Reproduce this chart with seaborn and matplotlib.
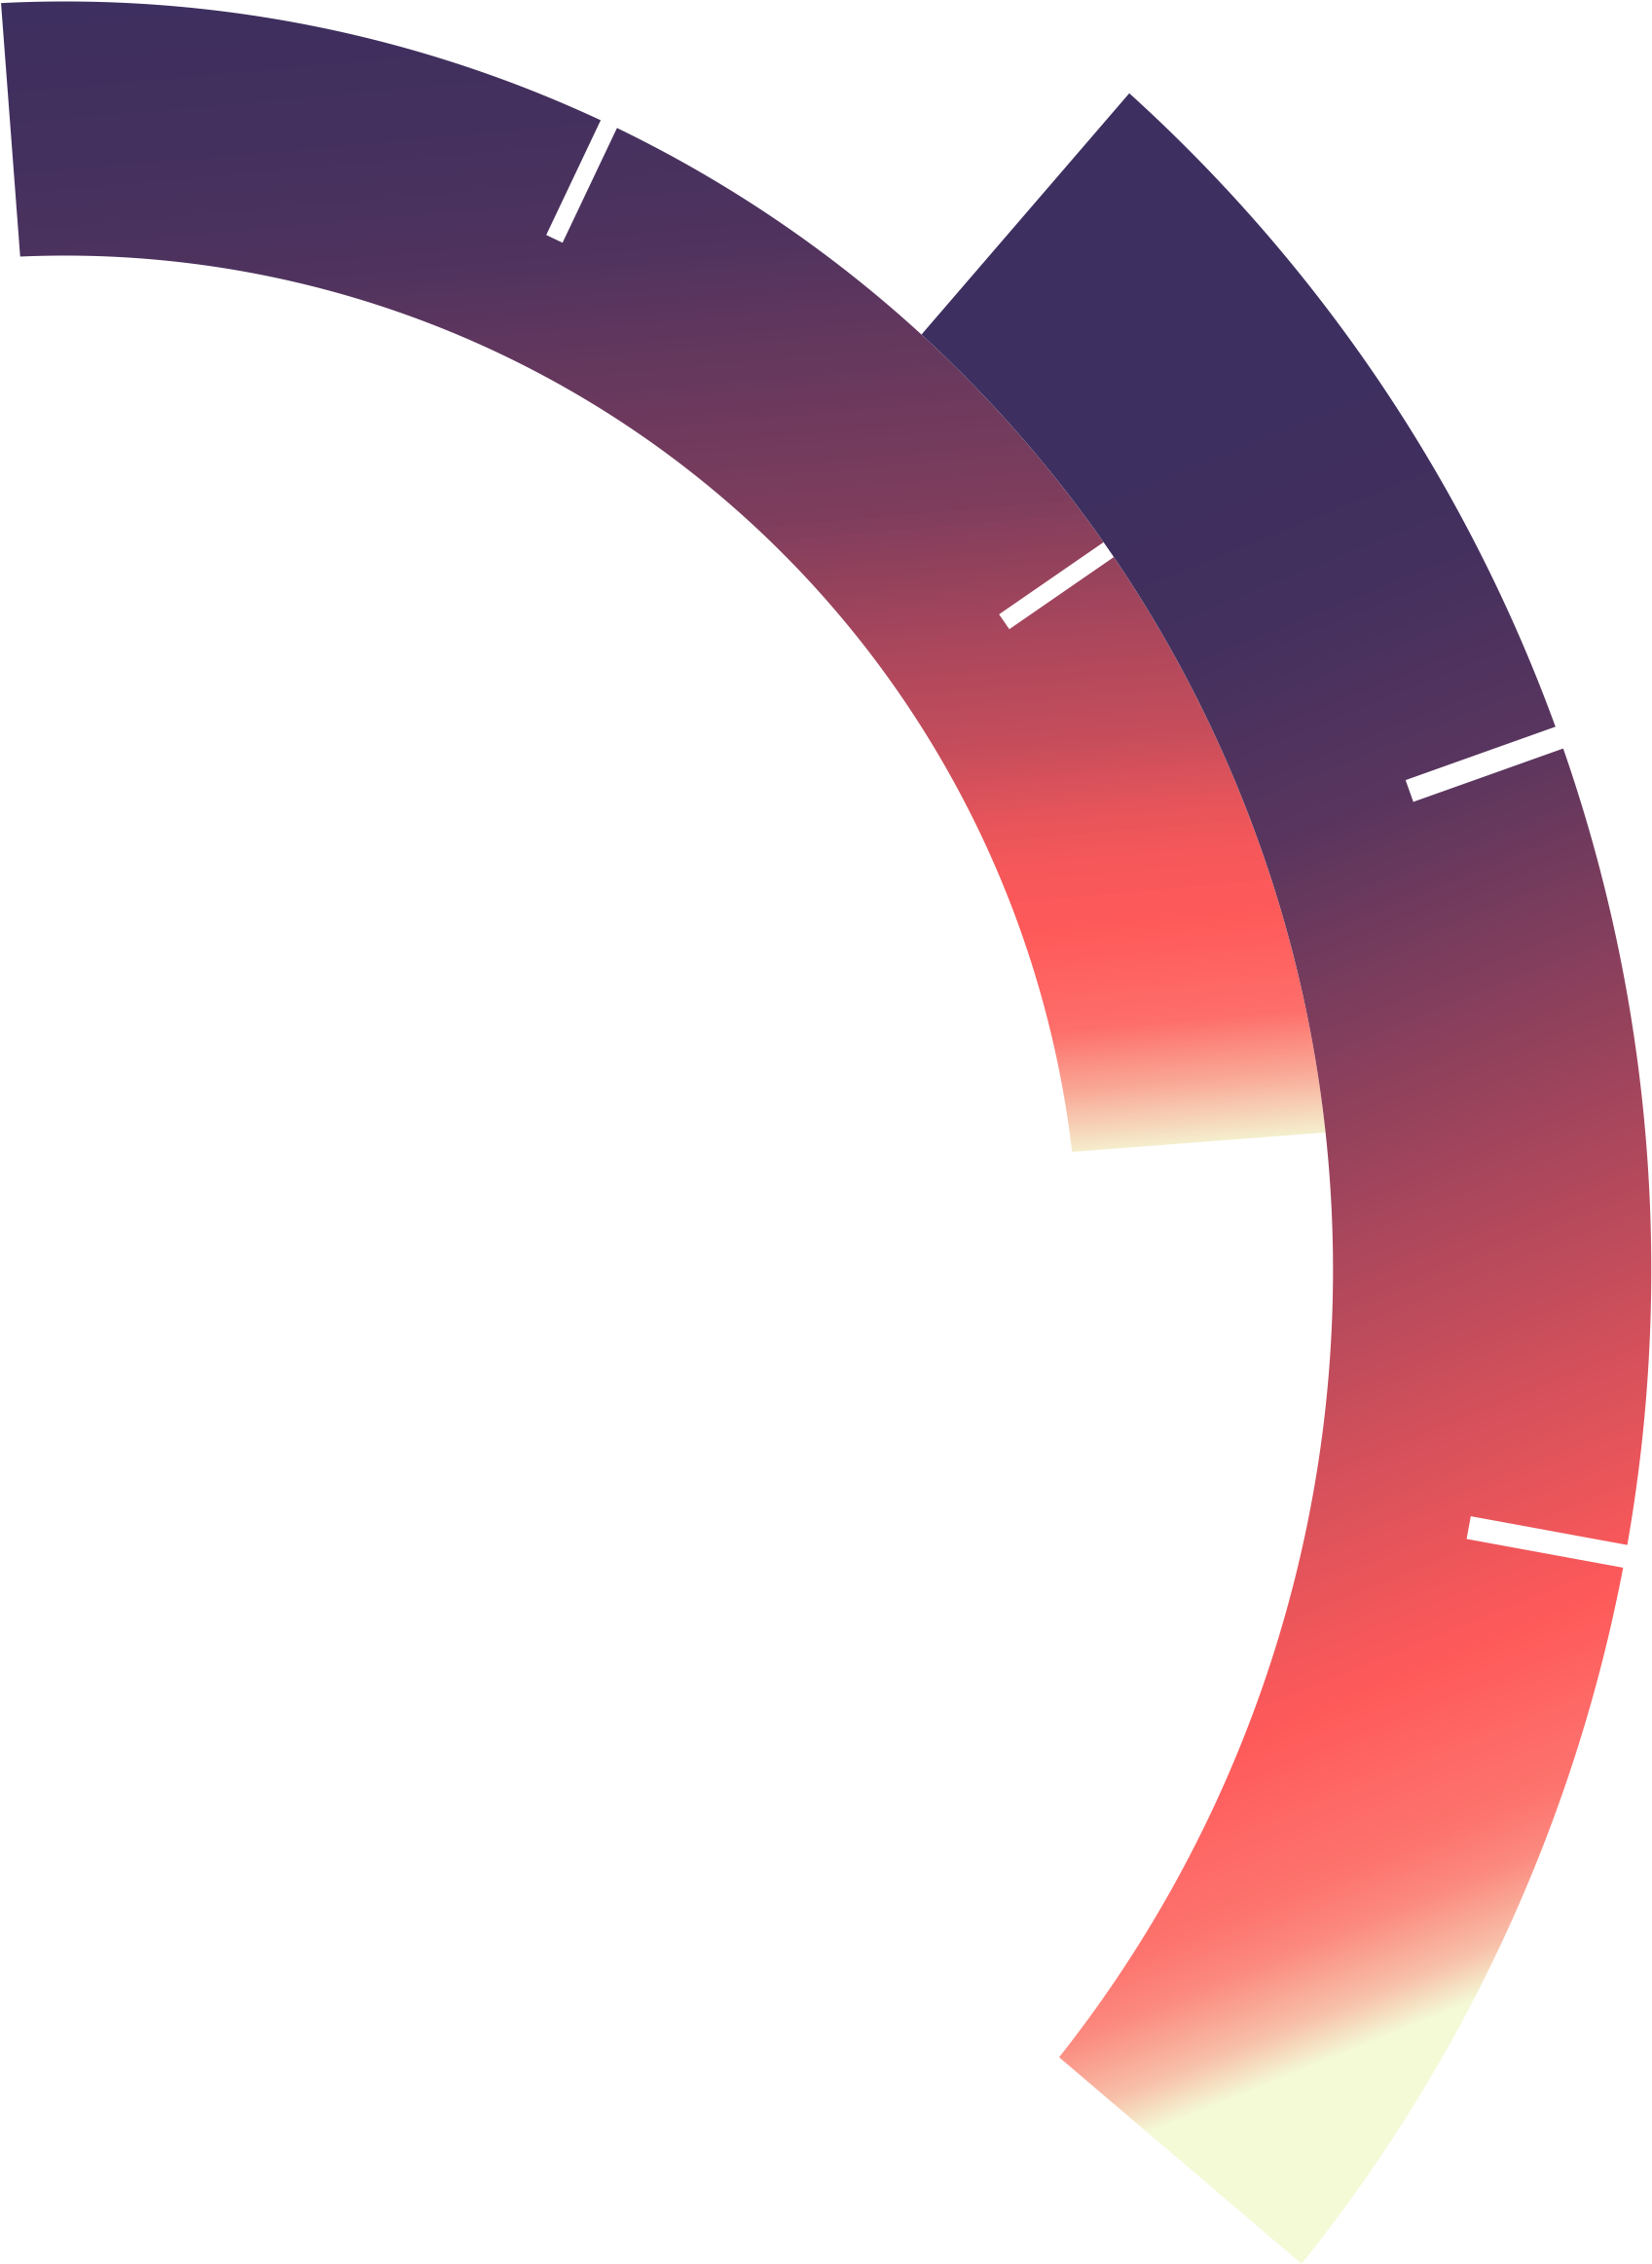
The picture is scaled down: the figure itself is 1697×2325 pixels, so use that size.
import numpy as np
import matplotlib
matplotlib.use("Agg")
import matplotlib.pyplot as plt
from matplotlib.patches import Polygon
import seaborn as sns

# canvas in picture units (y grows downwards)
W, H = 1144.5, 1568.0

# two concentric ring segments, angles clockwise from 12 o'clock
# (ends are padded cuts, so inner and outer angles differ a little)
center = (45.0, 879.5)
start_inner = [-2.53, 42.49]
start_outer = [-2.89, 42.14]
end_inner = [83.32, 128.37]
end_outer = [83.78, 128.78]
band_inner = [702.5, 878.5]
band_outer = [878.5, 1099.0]

# white separators cut from mid ring to outer edge
tick_angles = [[25.4, 55.4], [70.4, 100.4]]
tick_width = [12.5, 16.0]

# gradient: dark -> coral -> pale, 0..1..2 along a tilted axis
dark, coral, pale = "#3d2f5f", "#ff5a5a", "#f4fad6"
grad_tilt = [5.0, 22.0]
grad_x0 = [800.0, 0.0]
grad_pos = [[-70, 40, 140, 190, 335, 430, 510, 555, 590, 635, 705, 748, 790, 805],
            [580, 720, 872, 1330, 1440, 1551, 1589, 1637, 1668]]
grad_val = [[0, .04, .10, .17, .34, .56, .72, .87, .95, 1.0, 1.125, 1.49, 1.92, 2.0],
            [0, .035, .15, .84, 1.0, 1.16, 1.30, 1.64, 2.0]]

sns.set_theme(style="white")
cmap = sns.blend_palette([dark, coral, pale], as_cmap=True)

fig = plt.figure(figsize=(16.97, 23.25), dpi=100)
ax = fig.add_axes([0, 0, 1, 1])
ax.set_xlim(0, W)
ax.set_ylim(H, 0)
ax.axis("off")

xs = np.linspace(0, W, 1697)
ys = np.linspace(0, H, 2325)
X, Y = np.meshgrid(xs, ys)
c = np.array(center)


def arc(r, a1, a2, n=600):
    phi = np.deg2rad(np.linspace(a1, a2, n))
    return np.column_stack([c[0] + r * np.sin(phi), c[1] - r * np.cos(phi)])


z = 1
for i in range(2):
    t = np.deg2rad(grad_tilt[i])
    s = np.sin(t) * (X - grad_x0[i]) + np.cos(t) * Y
    val = np.interp(s, grad_pos[i], grad_val[i])
    im = ax.imshow(val, cmap=cmap, vmin=0, vmax=2, extent=(0, W, H, 0),
                   interpolation="bilinear", zorder=z)
    outline = np.vstack([arc(band_outer[i], start_outer[i], end_outer[i]),
                         arc(band_inner[i], end_inner[i], start_inner[i])])
    ring = Polygon(outline, closed=True, transform=ax.transData)
    im.set_clip_path(ring)

    # separators
    r1 = (band_inner[i] + band_outer[i]) / 2
    r2 = band_outer[i] + 30
    hw = tick_width[i] / 2
    for a in tick_angles[i]:
        phi = np.deg2rad(a)
        u = np.array([np.sin(phi), -np.cos(phi)])
        v = np.array([np.cos(phi), np.sin(phi)])
        pts = [c + r1 * u - hw * v, c + r2 * u - hw * v,
               c + r2 * u + hw * v, c + r1 * u + hw * v]
        ax.add_patch(Polygon(pts, closed=True, facecolor="white",
                             edgecolor="none", zorder=z + 1))
    z += 2

fig.savefig("out.png", dpi=100)
